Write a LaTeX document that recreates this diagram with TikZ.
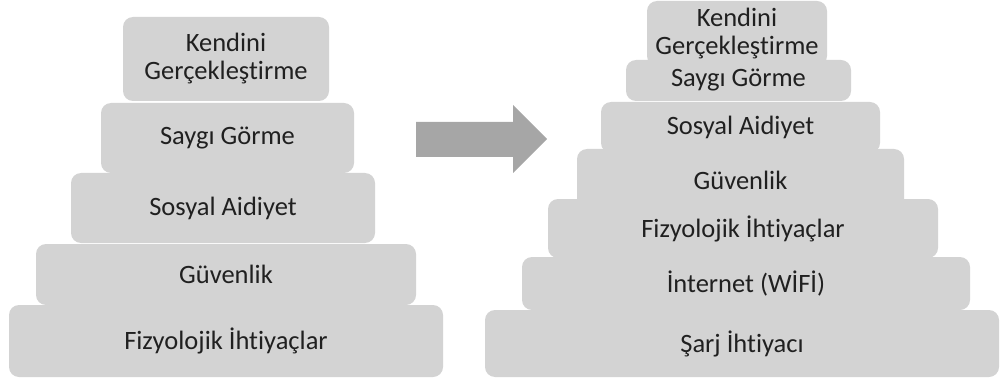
\documentclass[tikz,border=0pt]{standalone}
\usepackage{fontspec}
\setmainfont{Carlito}[Ligatures=NoCommon]
\definecolor{boxfill}{HTML}{D3D3D3}
\definecolor{txt}{HTML}{202020}
\definecolor{arrowfill}{HTML}{A6A6A6}
\begin{document}
\begin{tikzpicture}[x=1pt,y=-1pt,
  lvl/.style={fill=boxfill, draw=none, rounded corners=10pt, inner sep=0pt,
    text=txt, align=center, font=\fontsize{26.5}{28}\selectfont},
  bigarrow/.style={fill=arrowfill, draw=none}]
\useasboundingbox (0,0) rectangle (1000,382);
% left pyramid
\node[lvl, minimum width=206pt, minimum height=84pt] (l1) at (226,59) {Kendini\\Gerçekleştirme};
\node[lvl, minimum width=253pt, minimum height=70pt] (l2) at (227.5,138) {Saygı Görme};
\node[lvl, minimum width=304pt, minimum height=70pt] (l3) at (223,208) {Sosyal Aidiyet};
\node[lvl, minimum width=380pt, minimum height=61pt] (l4) at (226,274.5) {Güvenlik};
\node[lvl, minimum width=434pt, minimum height=72pt] (l5) at (226,341) {Fizyolojik İhtiyaçlar};
% arrow
\coordinate (a1) at (416,122);
\coordinate (a2) at (513,122);
\coordinate (a3) at (513,105);
\coordinate (a4) at (547,139);
\coordinate (a5) at (513,173);
\coordinate (a6) at (513,157);
\coordinate (a7) at (416,157);
\fill[bigarrow] (a1) -- (a2) -- (a3) -- (a4) -- (a5) -- (a6) -- (a7) -- cycle;
% right pyramid
\node[lvl, minimum width=180pt, minimum height=65pt] (r1) at (737,33.5) {Kendini\\Gerçekleştirme};
\node[lvl, minimum width=225pt, minimum height=41pt] (r2) at (738.5,80.5) {Saygı Görme};
\node[lvl, minimum width=279pt, minimum height=51pt] (r3) at (740.5,127.5) {Sosyal Aidiyet};
\node[lvl, minimum width=327pt, minimum height=62pt] (r4) at (740.5,180) {Güvenlik};
\node[lvl, minimum width=390pt, minimum height=59pt] (r5) at (743,228.5) {Fizyolojik İhtiyaçlar};
\node[lvl, minimum width=448pt, minimum height=53pt] (r6) at (746,283.5) {İnternet (WİFİ)};
\node[lvl, minimum width=514pt, minimum height=67pt] (r7) at (742,343.5) {Şarj İhtiyacı};
\end{tikzpicture}
\end{document}
